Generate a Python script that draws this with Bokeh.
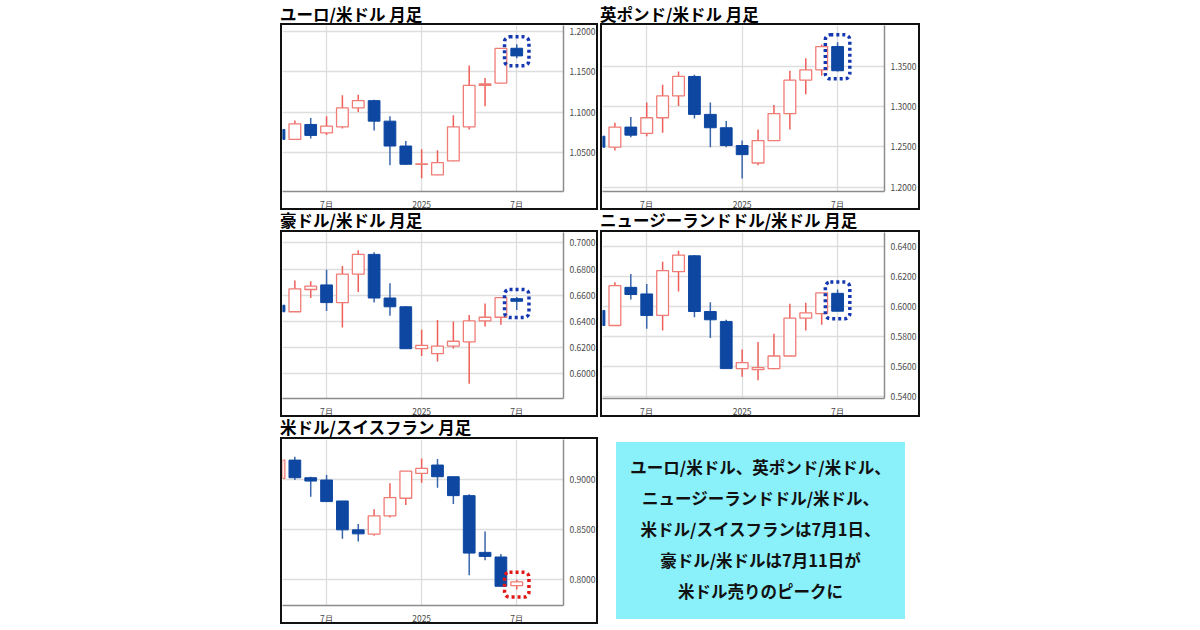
from bokeh.plotting import figure
from bokeh.models import ColumnDataSource, FixedTicker, NumeralTickFormatter, Range1d, Div, Spacer
from bokeh.layouts import row, column
from bokeh.embed import file_html
from bokeh.resources import INLINE

# monthly candles, Apr 2024 - Jul 2025
months = ["2024-04", "2024-05", "2024-06", "2024-07", "2024-08", "2024-09", "2024-10", "2024-11",
          "2024-12", "2025-01", "2025-02", "2025-03", "2025-04", "2025-05", "2025-06", "2025-07"]

# ユーロ/米ドル
eur_open = [1.0785, 1.0663, 1.0847, 1.0744, 1.0818, 1.1051, 1.1141, 1.0888, 1.0581, 1.0356, 1.0225, 1.0397, 1.0818, 1.1329, 1.1358, 1.1787]
eur_high = [1.0806, 1.0896, 1.0928, 1.0949, 1.1207, 1.1215, 1.1153, 1.0949, 1.0642, 1.0540, 1.0528, 1.0961, 1.1575, 1.1419, 1.1790, 1.1836]
eur_low = [1.0620, 1.0654, 1.0675, 1.0716, 1.0798, 1.1002, 1.0773, 1.0344, 1.0350, 1.0184, 1.0222, 1.0392, 1.0785, 1.1071, 1.1352, 1.1665]
eur_close = [1.0663, 1.0855, 1.0712, 1.0826, 1.1051, 1.1141, 1.0888, 1.0581, 1.0356, 1.0362, 1.0376, 1.0818, 1.1329, 1.1346, 1.1787, 1.1693]

# 英ポンド/米ドル
gbp_open = [1.2633, 1.2496, 1.2746, 1.2667, 1.2862, 1.3133, 1.3375, 1.2904, 1.2738, 1.2517, 1.2300, 1.2579, 1.2913, 1.3329, 1.3458, 1.3746]
gbp_high = [1.2650, 1.2800, 1.2871, 1.3050, 1.3271, 1.3438, 1.3396, 1.3050, 1.2821, 1.2579, 1.2717, 1.3021, 1.3446, 1.3600, 1.3771, 1.3800]
gbp_low = [1.2300, 1.2454, 1.2621, 1.2633, 1.2675, 1.3008, 1.2854, 1.2496, 1.2496, 1.2108, 1.2271, 1.2579, 1.2717, 1.3154, 1.3383, 1.3438]
gbp_close = [1.2496, 1.2746, 1.2646, 1.2862, 1.3133, 1.3375, 1.2904, 1.2738, 1.2517, 1.2404, 1.2579, 1.2913, 1.3329, 1.3458, 1.3746, 1.3446]

# 豪ドル/米ドル
aud_open = [0.6525, 0.6475, 0.6645, 0.6680, 0.6545, 0.6763, 0.6913, 0.6580, 0.6513, 0.6193, 0.6155, 0.6213, 0.6245, 0.6405, 0.6433, 0.6575]
aud_high = [0.6540, 0.6713, 0.6708, 0.6795, 0.6825, 0.6945, 0.6930, 0.6693, 0.6518, 0.6338, 0.6413, 0.6400, 0.6450, 0.6538, 0.6583, 0.6588]
aud_low = [0.6460, 0.6475, 0.6580, 0.6480, 0.6355, 0.6625, 0.6545, 0.6445, 0.6193, 0.6138, 0.6095, 0.6195, 0.5925, 0.6363, 0.6375, 0.6488]
aud_close = [0.6475, 0.6650, 0.6670, 0.6545, 0.6763, 0.6913, 0.6580, 0.6513, 0.6193, 0.6218, 0.6213, 0.6250, 0.6405, 0.6433, 0.6583, 0.6555]

# ニュージーランドドル/米ドル
nzd_open = [0.5976, 0.5876, 0.6130, 0.6086, 0.5943, 0.6234, 0.6340, 0.5969, 0.5903, 0.5589, 0.5582, 0.5589, 0.5673, 0.5925, 0.5955, 0.6090]
nzd_high = [0.5990, 0.6164, 0.6219, 0.6152, 0.6300, 0.6373, 0.6345, 0.6031, 0.5914, 0.5717, 0.5766, 0.5821, 0.6020, 0.6027, 0.6093, 0.6115]
nzd_low = [0.5850, 0.5872, 0.6049, 0.5854, 0.5843, 0.6102, 0.5931, 0.5792, 0.5589, 0.5534, 0.5512, 0.5585, 0.5711, 0.5843, 0.5881, 0.5971]
nzd_close = [0.5876, 0.6141, 0.6082, 0.5943, 0.6241, 0.6345, 0.5969, 0.5914, 0.5589, 0.5629, 0.5596, 0.5673, 0.5925, 0.5960, 0.6093, 0.5971]

# 米ドル/スイスフラン
chf_open = [0.9007, 0.9188, 0.9013, 0.8990, 0.8782, 0.8495, 0.8452, 0.8634, 0.8809, 0.9056, 0.9139, 0.9023, 0.8835, 0.8271, 0.8225, 0.7941]
chf_high = [0.9200, 0.9221, 0.9023, 0.9040, 0.8782, 0.8554, 0.8700, 0.8957, 0.9079, 0.9205, 0.9198, 0.9023, 0.8848, 0.8479, 0.8254, 0.8000]
chf_low = [0.8990, 0.8990, 0.8825, 0.8776, 0.8406, 0.8380, 0.8436, 0.8617, 0.8743, 0.8964, 0.8914, 0.8753, 0.8043, 0.8192, 0.7934, 0.7901]
chf_close = [0.9188, 0.9013, 0.8980, 0.8776, 0.8495, 0.8455, 0.8634, 0.8815, 0.9079, 0.9106, 0.9023, 0.8835, 0.8264, 0.8231, 0.7934, 0.7977]

x_tick_months = ["2024-07", "2025-01", "2025-07"]
x_tick_labels = ["7月", "2025", "7月"]

eur_ticks = [1.05, 1.10, 1.15, 1.20]
gbp_ticks = [1.20, 1.25, 1.30, 1.35]
aud_ticks = [0.60, 0.62, 0.64, 0.66, 0.68, 0.70]
nzd_ticks = [0.54, 0.56, 0.58, 0.60, 0.62, 0.64]
chf_ticks = [0.80, 0.85, 0.90]

titles = ["ユーロ/米ドル 月足", "英ポンド/米ドル 月足", "豪ドル/米ドル 月足",
          "ニュージーランドドル/米ドル 月足", "米ドル/スイスフラン 月足"]

note_lines = ["ユーロ/米ドル、英ポンド/米ドル、", "ニュージーランドドル/米ドル、",
              "米ドル/スイスフランは7月1日、", "豪ドル/米ドルは7月11日が", "米ドル売りのピークに"]

JP = "Noto Sans CJK JP"
UP_LINE = "#F07C76"
UP_WICK = "#EE5F5A"
DOWN_FILL = "#0D47A1"
DOWN_WICK = "#3A66AA"


def month_num(m):
    y, mo = m.split("-")
    return (int(y) - 2024) * 12 + int(mo) - 1


xs = [month_num(m) for m in months]
x_ticks = [month_num(m) for m in x_tick_months]


def candle_panel(o, h, l, c, y_lo, y_hi, y_ticks, mark_color, w, right_border):
    # the css border sits inside width/height
    p = figure(width=w, height=187, x_range=Range1d(3.22, 20.95), y_range=Range1d(y_lo, y_hi),
               y_axis_location="right", toolbar_location=None, output_backend="svg",
               min_border_left=0, min_border_top=0, min_border_right=right_border, min_border_bottom=18,
               styles={"border": "2px solid #111"})
    p.outline_line_color = None

    up = [cc >= oo for oo, cc in zip(o, c)]
    src_up = ColumnDataSource(dict(
        x=[x for x, u in zip(xs, up) if u],
        hi=[v for v, u in zip(h, up) if u], lo=[v for v, u in zip(l, up) if u],
        top=[cc for oo, cc, u in zip(o, c, up) if u], bot=[oo for oo, cc, u in zip(o, c, up) if u]))
    src_dn = ColumnDataSource(dict(
        x=[x for x, u in zip(xs, up) if not u],
        hi=[v for v, u in zip(h, up) if not u], lo=[v for v, u in zip(l, up) if not u],
        top=[oo for oo, cc, u in zip(o, c, up) if not u], bot=[cc for oo, cc, u in zip(o, c, up) if not u]))

    p.segment("x", "lo", "x", "hi", source=src_up, line_color=UP_WICK, line_width=1.5)
    p.segment("x", "lo", "x", "hi", source=src_dn, line_color=DOWN_WICK, line_width=1.5)
    p.vbar(x="x", width=0.74, top="top", bottom="bot", source=src_up,
           fill_color="white", line_color=UP_LINE, line_width=1.3)
    p.vbar(x="x", width=0.74, top="top", bottom="bot", source=src_dn,
           fill_color=DOWN_FILL, line_color=DOWN_FILL, line_width=1)

    # dotted box round the latest month
    pad = 0.045 * (y_hi - y_lo)
    p.quad(left=[xs[-1] - 0.77], right=[xs[-1] + 0.77], top=[h[-1] + pad], bottom=[l[-1] - pad],
           fill_color=None, line_color=mark_color, line_width=3.5, line_dash="3 3", border_radius=5)

    p.xaxis.ticker = FixedTicker(ticks=x_ticks)
    p.xaxis.major_label_overrides = {t: lab for t, lab in zip(x_ticks, x_tick_labels)}
    p.yaxis.ticker = FixedTicker(ticks=y_ticks)
    p.yaxis.formatter = NumeralTickFormatter(format="0.0000")
    for ax in (p.xaxis, p.yaxis):
        ax.axis_line_color = "#8c8c8c"
        ax.axis_line_width = 1.5
        ax.major_tick_line_color = None
        ax.minor_tick_line_color = None
        ax.major_label_text_font = JP
        ax.major_label_text_font_size = "8.5px"
        ax.major_label_text_color = "#4a4a4a"
    p.xaxis.major_label_standoff = 0
    p.yaxis.major_label_standoff = 0
    p.grid.grid_line_color = "#dddddd"
    p.grid.grid_line_width = 1.3
    return p


def title_div(text, w, h, lh):
    return Div(text=text, width=w, height=h, margin=0,
               styles={"font-family": JP, "font-weight": "bold", "font-size": "16.5px",
                       "line-height": lh, "color": "#000", "white-space": "nowrap"})


p1 = candle_panel(eur_open, eur_high, eur_low, eur_close, 1.0020, 1.2068, eur_ticks, "#1538B0", 318, 37)
p2 = candle_panel(gbp_open, gbp_high, gbp_low, gbp_close, 1.1946, 1.4008, gbp_ticks, "#1538B0", 320, 38)
p3 = candle_panel(aud_open, aud_high, aud_low, aud_close, 0.5813, 0.7080, aud_ticks, "#1538B0", 318, 37)
p4 = candle_panel(nzd_open, nzd_high, nzd_low, nzd_close, 0.5390, 0.6495, nzd_ticks, "#1538B0", 320, 38)
p5 = candle_panel(chf_open, chf_high, chf_low, chf_close, 0.7743, 0.9393, chf_ticks, "#E01818", 318, 37)

note = Div(text='<div style="padding-top:10px;text-align:center">' + "<br>".join(note_lines) + "</div>",
           width=289, height=177, margin=0,
           styles={"background-color": "#8AF0FA", "font-family": JP, "font-weight": "bold",
                   "font-size": "16.5px", "line-height": "31px", "color": "#111", "text-align": "center"})

left_col = column(Spacer(width=10, height=8),
                  title_div(titles[0], 318, 15, "13px"), p1,
                  title_div(titles[2], 318, 20, "20px"), p3,
                  title_div(titles[4], 318, 20, "20px"), p5)
right_col = column(Spacer(width=10, height=8),
                   title_div(titles[1], 320, 15, "13px"), p2,
                   title_div(titles[3], 320, 20, "20px"), p4,
                   Spacer(width=10, height=25), row(Spacer(width=16, height=10), note))

p = row(Spacer(width=280, height=10), left_col, Spacer(width=2, height=10), right_col)

open("out.html", "w").write(file_html(p, INLINE))
